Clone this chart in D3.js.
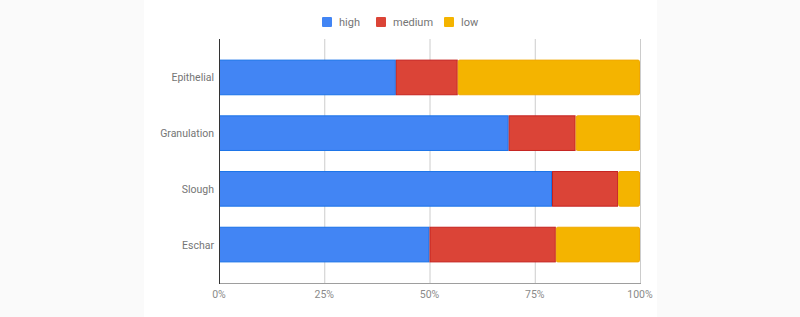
<!DOCTYPE html>
<html lang="en">
<head>
<meta charset="UTF-8">
<title>Stacked bars</title>
<script src="https://d3js.org/d3.v7.min.js"></script>
<style>
  body { margin: 0; background: #fafafa; }
  text { font-family: Roboto, "Noto Sans", sans-serif; }
</style>
</head>
<body>
<script>
    const categories = ['Epithelial', 'Granulation', 'Slough', 'Eschar'];
    const seriesNames = ['high', 'medium', 'low'];
    const high   = [42.0, 68.8, 79.1, 50.0];
    const medium = [14.7, 15.9, 15.7, 30.0];
    const low    = [43.3, 15.3, 5.2, 20.0];
    const tickLabels = ['0%', '25%', '50%', '75%', '100%'];

    const colors = ['#4285f4', '#db4437', '#f4b400'];
    const edges  = ['#1a73e8', '#c5221f', '#f0a800'];

    const width = 800, height = 317;
    const panel = {x: 144, w: 513};
    const plot = {left: 219, right: 640, top: 39, bottom: 283};

    const rows = categories.map((c, i) => ({cat: c, high: high[i], medium: medium[i], low: low[i]}));
    const stacked = d3.stack().keys(seriesNames)(rows);

    const x = d3.scaleLinear().domain([0, 100]).range([plot.left, plot.right]);
    const y = d3.scaleBand().domain(categories)
        .range([plot.top, plot.bottom])
        .paddingInner(0.36).paddingOuter(0.37);

    const svg = d3.select('body').append('svg')
        .attr('width', width).attr('height', height);

    svg.append('rect')
        .attr('x', panel.x).attr('y', 0)
        .attr('width', panel.w).attr('height', height)
        .attr('fill', '#fff');

    // grid
    svg.append('g').selectAll('line')
        .data(d3.range(0, 101, 25).slice(1))
        .enter().append('line')
        .attr('x1', d => x(d) + 0.5).attr('x2', d => x(d) + 0.5)
        .attr('y1', plot.top).attr('y2', plot.bottom)
        .attr('stroke', '#cccccc');

    // bars
    svg.append('g').selectAll('g')
        .data(stacked)
        .enter().append('g')
        .each(function(s, si) {
            d3.select(this).selectAll('rect')
                .data(s)
                .enter().append('rect')
                .attr('x', d => x(d[0]) + 0.5)
                .attr('y', d => y(d.data.cat) + 0.5)
                .attr('width', d => Math.max(0, x(d[1]) - x(d[0]) - 1))
                .attr('height', y.bandwidth() - 1)
                .attr('rx', si === 2 ? 1.5 : 0)
                .attr('fill', colors[si])
                .attr('stroke', edges[si])
                .attr('stroke-width', 1);
        });

    // axes
    svg.append('line')
        .attr('x1', plot.left).attr('x2', plot.right + 1)
        .attr('y1', plot.bottom + 0.5).attr('y2', plot.bottom + 0.5)
        .attr('stroke', '#9e9e9e');
    svg.append('line')
        .attr('x1', plot.left + 0.5).attr('x2', plot.left + 0.5)
        .attr('y1', plot.top).attr('y2', plot.bottom + 1)
        .attr('stroke', '#333333');

    svg.append('g').selectAll('text')
        .data(tickLabels)
        .enter().append('text')
        .attr('x', (d, i) => x(i * 25))
        .attr('y', 298)
        .attr('text-anchor', 'middle')
        .attr('font-size', 10.5)
        .attr('fill', '#8a8a8a')
        .text(d => d);

    svg.append('g').selectAll('text')
        .data(categories)
        .enter().append('text')
        .attr('x', 214)
        .attr('y', d => y(d) + y.bandwidth() / 2 + 4)
        .attr('text-anchor', 'end')
        .attr('font-size', 10.5)
        .attr('fill', '#757575')
        .text(d => d);

    // legend
    const legendX = [322, 376, 444];
    const legend = svg.append('g').selectAll('g')
        .data(seriesNames)
        .enter().append('g')
        .attr('transform', (d, i) => 'translate(' + legendX[i] + ',17)');
    legend.append('rect')
        .attr('width', 10).attr('height', 10).attr('rx', 1)
        .attr('fill', (d, i) => colors[i]);
    legend.append('text')
        .attr('x', 17).attr('y', 9)
        .attr('font-size', 11)
        .attr('fill', '#757575')
        .text(d => d);
</script>
</body>
</html>
